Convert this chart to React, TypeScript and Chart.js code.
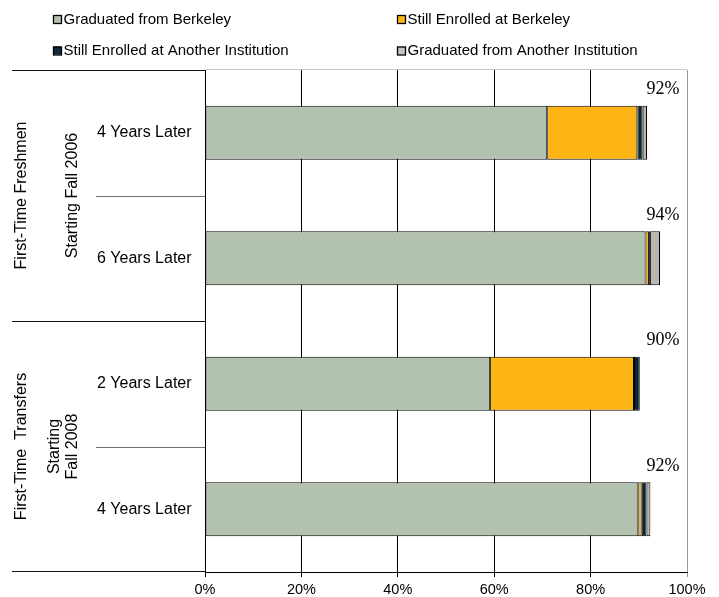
import React, { useEffect, useRef } from "react";
import { Chart, registerables } from "chart.js";

Chart.register(...registerables);

// ---- data ----
const categories = ["4 Years Later", "6 Years Later", "2 Years Later", "4 Years Later"];
const gradBerkeley = [71.0, 91.4, 59.1, 89.9];
const enrolledBerkeley = [18.7, 0.7, 29.9, 0.7];
const enrolledOther = [1.1, 0.2, 1.2, 1.0];
const gradOther = [0.9, 2.1, 0, 0.8];
const totalLabels = ["92%", "94%", "90%", "92%"];
const seriesNames = [
  "Graduated from Berkeley",
  "Still Enrolled at Berkeley",
  "Still Enrolled at Another Institution",
  "Graduated from Another Institution",
];
const groupTitles = ["First-Time Freshmen", "First-Time  Transfers"];
const groupSubtitles = [["Starting Fall 2006"], ["Starting", "Fall 2008"]];
const groupSize = 2;
const xTickValues = [0, 20, 40, 60, 80, 100];

const colors = ["#b3c2af", "#fdb515", "#0b2535", "#bcb6b0"];
const legendColors = ["#b3c2af", "#fdb515", "#0b2a3e", "#c6c2bc"];

const SANS = "'Liberation Sans', Arial, sans-serif";
const SERIF = "'Liberation Serif', 'Times New Roman', serif";

const decorPlugin = {
  id: "decor",
  afterDraw(chart: any) {
    const ctx: CanvasRenderingContext2D = chart.ctx;
    const ca = chart.chartArea;
    const ys = chart.scales.y;
    const xs = chart.scales.x;
    const n = categories.length;
    const bound = (k: number) =>
      k === 0 ? ca.top : k === n ? ca.bottom : (ys.getPixelForValue(k - 1) + ys.getPixelForValue(k)) / 2;
    const hline = (x0: number, x1: number, y: number) => {
      const yy = Math.round(y) + 0.5;
      ctx.beginPath();
      ctx.moveTo(x0, yy);
      ctx.lineTo(x1, yy);
      ctx.stroke();
    };
    ctx.save();
    ctx.lineWidth = 1;
    // top border of plot area
    ctx.strokeStyle = "#c8c8c8";
    hline(ca.left + 1, ca.right, ca.top - 1);
    // left-side group separator lines
    for (let k = 0; k <= n; k++) {
      const outer = k % groupSize === 0;
      ctx.strokeStyle = outer ? "#111" : "#707070";
      hline(outer ? 12 : 96, ca.left, bound(k) - (k === n ? 1 : 0));
    }
    // category labels
    ctx.fillStyle = "#000";
    ctx.font = `16px ${SANS}`;
    ctx.textAlign = "left";
    ctx.textBaseline = "middle";
    categories.forEach((c, i) => ctx.fillText(c, 97, ys.getPixelForValue(i)));
    // rotated group labels
    groupTitles.forEach((t, g) => {
      const cy = (bound(g * groupSize) + bound((g + 1) * groupSize)) / 2;
      const drawRot = (text: string, cx: number) => {
        ctx.save();
        ctx.translate(cx, cy);
        ctx.rotate(-Math.PI / 2);
        ctx.textAlign = "center";
        ctx.textBaseline = "middle";
        ctx.fillText(text, 0, 0);
        ctx.restore();
      };
      drawRot(t, 22);
      const subs = groupSubtitles[g];
      subs.forEach((s, j) => drawRot(s, 73 - (subs.length - 1 - j) * 18));
    });
    // total labels
    ctx.font = `18px ${SERIF}`;
    ctx.textAlign = "center";
    ctx.textBaseline = "middle";
    totalLabels.forEach((t, i) => {
      ctx.fillText(t, xs.getPixelForValue(95), ys.getPixelForValue(i) - 43);
    });
    // legend
    ctx.font = `15px ${SANS}`;
    ctx.textAlign = "left";
    const colX = [53, 397];
    const rowY = [19.5, 51];
    seriesNames.forEach((name, i) => {
      const cx = colX[i % 2];
      const cy = rowY[Math.floor(i / 2)];
      ctx.fillStyle = legendColors[i];
      ctx.fillRect(cx, cy - 4.5, 8, 8);
      ctx.strokeStyle = "#000";
      ctx.lineWidth = 1.3;
      ctx.strokeRect(cx + 0.5, cy - 4, 8, 8);
      ctx.fillStyle = "#000";
      ctx.fillText(name, cx + 10.5, cy);
    });
    ctx.restore();
  },
};

export default function App() {
  const ref = useRef<HTMLCanvasElement>(null);
  useEffect(() => {
    const canvas = ref.current!;
    const series = [gradBerkeley, enrolledBerkeley, enrolledOther, gradOther];
    const chart = new Chart(canvas, {
      type: "bar",
      data: {
        labels: categories,
        datasets: series.map((d, i) => ({
          label: seriesNames[i],
          data: d,
          backgroundColor: colors[i],
          borderColor: "#000",
          borderWidth: 1,
          borderSkipped: false,
          barPercentage: 0.43,
          categoryPercentage: 1,
        })),
      },
      options: {
        indexAxis: "y",
        responsive: false,
        animation: false,
        devicePixelRatio: 1,
        layout: { padding: { left: 205, right: 32, top: 70, bottom: 0 } },
        plugins: { legend: { display: false }, tooltip: { enabled: false } },
        scales: {
          x: {
            stacked: true,
            min: 0,
            max: 100,
            afterBuildTicks: (scale: any) => {
              scale.ticks = xTickValues.map((v) => ({ value: v }));
            },
            afterFit: (scale: any) => {
              scale.height = 25;
            },
            ticks: {
              color: "#000",
              padding: 6,
              maxRotation: 0,
              font: { family: SANS, size: 14.5, lineHeight: 1 },
              callback: (v: any) => `${v}%`,
            },
            grid: {
              color: (c: any) => (c.tick && c.tick.value === 100 ? "#9a9a9a" : "#000"),
              lineWidth: 1,
              tickLength: 5,
            },
            border: { display: true, color: "#000", width: 1 },
          },
          y: {
            stacked: true,
            display: false,
          },
        },
      },
      plugins: [decorPlugin],
    } as any);
    return () => chart.destroy();
  }, []);
  return (
    <canvas
      ref={ref}
      width={719}
      height={597}
      style={{ position: "fixed", left: 0, top: 0, width: 719, height: 597, background: "#fff" }}
    />
  );
}
